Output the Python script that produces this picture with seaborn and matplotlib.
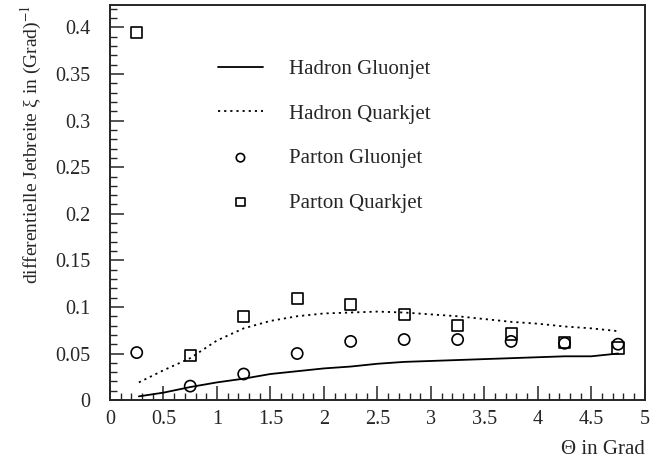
import numpy as np
import pandas as pd
import matplotlib
matplotlib.use("Agg")
import matplotlib.pyplot as plt
from matplotlib.ticker import MultipleLocator
import seaborn as sns

# Bin centres (degrees) for the parton-level points
theta_bins = [0.25, 0.75, 1.25, 1.75, 2.25, 2.75, 3.25, 3.75, 4.25, 4.75]
parton_gluon = [0.051, 0.015, 0.028, 0.050, 0.063, 0.065, 0.065, 0.063, 0.061, 0.060]
parton_quark = [0.395, 0.048, 0.090, 0.109, 0.103, 0.092, 0.080, 0.071, 0.062, 0.056]

# Hadron-level curves
theta_curve = [0.27, 0.5, 0.75, 1.0, 1.25, 1.5, 1.75, 2.0, 2.25, 2.5,
               2.75, 3.0, 3.25, 3.5, 3.75, 4.0, 4.25, 4.5, 4.75]
hadron_gluon = [0.004, 0.008, 0.014, 0.019, 0.023, 0.028, 0.031, 0.034, 0.036, 0.039,
                0.041, 0.042, 0.043, 0.044, 0.045, 0.046, 0.047, 0.047, 0.050]
hadron_quark = [0.019, 0.032, 0.045, 0.064, 0.077, 0.085, 0.090, 0.093, 0.094, 0.095,
                0.094, 0.092, 0.090, 0.087, 0.084, 0.082, 0.079, 0.077, 0.074]

x_ticks = [0, 0.5, 1, 1.5, 2, 2.5, 3, 3.5, 4, 4.5, 5]
x_tick_labels = ["0", "0.5", "1", "1.5", "2", "2.5", "3", "3.5", "4", "4.5", "5"]
y_ticks = [0, 0.05, 0.1, 0.15, 0.2, 0.25, 0.3, 0.35, 0.4]
y_tick_labels = ["0", "0.05", "0.1", "0.15", "0.2", "0.25", "0.3", "0.35", "0.4"]

sns.set_style("ticks")
plt.rcParams["font.family"] = ["Liberation Serif", "DejaVu Serif"]
plt.rcParams["mathtext.fontset"] = "stix"

fig = plt.figure(figsize=(6.52, 4.62), dpi=100)
ax = fig.add_axes([0.1687, 0.134, 0.8203, 0.855])

curves = pd.DataFrame({"theta": theta_curve, "hg": hadron_gluon, "hq": hadron_quark})
points = pd.DataFrame({"theta": theta_bins, "pg": parton_gluon, "pq": parton_quark})

sns.lineplot(data=curves, x="theta", y="hg", ax=ax, color="black", lw=1.3,
             label="Hadron Gluonjet")
sns.lineplot(data=curves, x="theta", y="hq", ax=ax, color="black", lw=1.3,
             ls=(0, (1.2, 2.2)), label="Hadron Quarkjet")
sns.scatterplot(data=points, x="theta", y="pg", ax=ax, marker="o", s=65,
                facecolor="none", edgecolor="black", linewidth=1.2,
                label="Parton Gluonjet")
sns.scatterplot(data=points, x="theta", y="pq", ax=ax, marker="s", s=65,
                facecolor="none", edgecolor="black", linewidth=1.2,
                label="Parton Quarkjet")

ax.set_xlim(0, 5)
ax.set_ylim(0, 0.424)
ax.set_xticks(x_ticks)
ax.set_xticklabels(x_tick_labels)
ax.set_yticks(y_ticks)
ax.set_yticklabels(y_tick_labels)
ax.xaxis.set_minor_locator(MultipleLocator(0.1))
ax.yaxis.set_minor_locator(MultipleLocator(0.01))
ax.tick_params(which="major", direction="in", length=10, width=1.1, labelsize=14.5)
ax.tick_params(axis="x", which="major", pad=7)
ax.tick_params(axis="y", which="major", pad=14)
ax.tick_params(which="minor", direction="in", length=5, width=1.0)
for s in ax.spines.values():
    s.set_linewidth(1.4)

ax.set_xlabel("Θ in Grad", loc="right", fontsize=15, labelpad=8)
ax.set_ylabel(r"differentielle Jetbreite ξ in (Grad)$^{-1}$", loc="top",
              fontsize=14, labelpad=8)

handles, labels = ax.get_legend_handles_labels()
ax.legend(handles, labels, loc="upper left", bbox_to_anchor=(0.166, 0.91),
          frameon=False, fontsize=15, labelspacing=1.2, handlelength=2.2,
          handletextpad=1.25, markerscale=0.75)

fig.savefig("out.png", dpi=100)
